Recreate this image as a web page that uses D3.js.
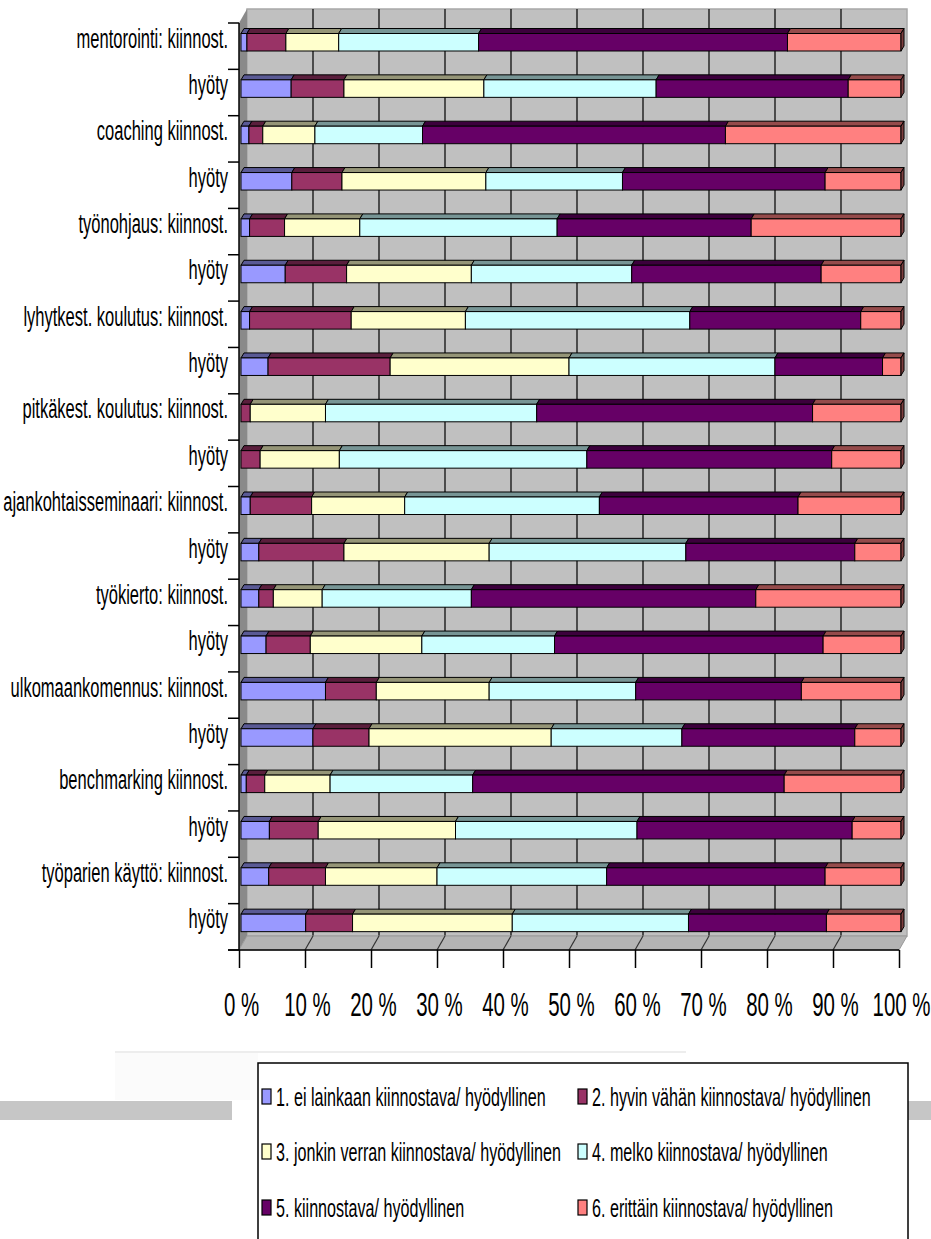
<!DOCTYPE html>
<html>
<head>
<meta charset="utf-8">
<script src="https://cdn.jsdelivr.net/npm/d3@7"></script>
<style>
  html, body { margin: 0; padding: 0; background: #fff; }
  svg { display: block; font-family: "Liberation Sans", Arial, sans-serif; }
</style>
</head>
<body>
<div id="chart"></div>
<script>
// 100 % stacked 3D bar chart (Excel style): interest / usefulness of development methods

const categories = [
  "mentorointi: kiinnost.", "hyöty",
  "coaching kiinnost.", "hyöty",
  "työnohjaus: kiinnost.", "hyöty",
  "lyhytkest. koulutus: kiinnost.", "hyöty",
  "pitkäkest. koulutus: kiinnost.", "hyöty",
  "ajankohtaisseminaari: kiinnost.", "hyöty",
  "työkierto: kiinnost.", "hyöty",
  "ulkomaankomennus: kiinnost.", "hyöty",
  "benchmarking kiinnost.", "hyöty",
  "työparien käyttö: kiinnost.", "hyöty",
];

const levels = [
  "1. ei lainkaan kiinnostava/ hyödyllinen",
  "2. hyvin vähän kiinnostava/ hyödyllinen",
  "3. jonkin verran kiinnostava/ hyödyllinen",
  "4. melko kiinnostava/ hyödyllinen",
  "5. kiinnostava/ hyödyllinen",
  "6. erittäin kiinnostava/ hyödyllinen",
];

// share (%) of answers per level, one value per category (top to bottom)
const lvl1 = [0.9, 7.6, 1.2, 7.7, 1.3, 6.7, 1.3, 4.1, 0, 0, 1.4, 2.7, 2.7, 3.8, 12.8, 10.9, 0.8, 4.3, 4.2, 9.8];
const lvl2 = [5.9, 8.0, 2.1, 7.6, 5.3, 9.3, 15.4, 18.5, 1.4, 2.9, 9.3, 12.9, 2.2, 6.7, 7.7, 8.5, 2.8, 7.4, 8.6, 7.1];
const lvl3 = [8.0, 21.2, 7.9, 21.8, 11.4, 18.9, 17.3, 27.1, 11.4, 12.0, 14.1, 22.0, 7.4, 16.9, 17.1, 27.6, 9.9, 20.8, 16.9, 24.2];
const lvl4 = [21.2, 26.1, 16.3, 20.7, 29.9, 24.3, 34.0, 31.2, 32.0, 37.5, 29.5, 29.8, 22.6, 20.1, 22.2, 19.8, 21.6, 27.5, 25.7, 26.7];
const lvl5 = [46.8, 29.1, 45.9, 30.7, 29.4, 28.7, 25.9, 16.3, 41.8, 37.1, 30.1, 25.6, 43.1, 40.7, 25.1, 26.2, 47.2, 32.6, 33.1, 20.9];
const lvl6 = [17.2, 8.0, 26.6, 11.5, 22.7, 12.1, 6.1, 2.8, 13.4, 10.5, 15.6, 7.0, 22.0, 11.8, 15.1, 7.0, 17.7, 7.4, 11.5, 11.3];

const xTicks = [0, 10, 20, 30, 40, 50, 60, 70, 80, 90, 100];

const series = [lvl1, lvl2, lvl3, lvl4, lvl5, lvl6];
const colors = ["#9999FF", "#993366", "#FFFFCC", "#CCFFFF", "#660066", "#FF8080"];

const W = 931, H = 1239;
const X0 = 239, X1 = 899, YT = 23, YB = 950;
const DX = 8, DY = -14;       // depth of the walls
const BDX = 3, BDY = -5;      // depth of a bar
const SQ = 0.62;              // horizontal squeeze of the narrow font
const SQ_LABEL = 0.59;

const svg = d3.select("#chart").append("svg").attr("width", W).attr("height", H);

const x = d3.scaleLinear().domain([0, 100]).range([X0, X1]);
const y = d3.scaleBand().domain(d3.range(categories.length)).range([YT, YB]);

// ---- walls -----------------------------------------------------------------
svg.append("rect")
  .attr("x", X0 + DX).attr("y", YT + DY)
  .attr("width", X1 - X0).attr("height", YB - YT)
  .attr("fill", "#c0c0c0").attr("stroke", "#a8a8a8").attr("stroke-width", 1.5);

svg.append("g").selectAll("line").data(xTicks.slice(1, -1)).join("line")
  .attr("x1", (d) => x(d) + DX).attr("x2", (d) => x(d) + DX)
  .attr("y1", YT + DY).attr("y2", YB + DY)
  .attr("stroke", "#1a1a1a").attr("stroke-width", 1.4);

// left wall
svg.append("path")
  .attr("d", `M${X0},${YT} L${X0 + DX},${YT + DY} L${X0 + DX},${YB + DY} L${X0},${YB} Z`)
  .attr("fill", "#8a8a8a");

// floor
svg.append("path")
  .attr("d", `M${X0},${YB} L${X1},${YB} L${X1 + DX},${YB + DY} L${X0 + DX},${YB + DY} Z`)
  .attr("fill", "#b4b4b4").attr("stroke", "#9a9a9a");
svg.append("g").selectAll("line").data(xTicks.slice(1, -1)).join("line")
  .attr("x1", (d) => x(d)).attr("y1", YB)
  .attr("x2", (d) => x(d) + DX).attr("y2", YB + DY)
  .attr("stroke", "#333").attr("stroke-width", 1.2);

// ---- bars ------------------------------------------------------------------
const rows = categories.map((c, i) => {
  const r = { i };
  series.forEach((s, k) => { r[k] = s[i]; });
  return r;
});
const stacked = d3.stack().keys(d3.range(series.length))(rows);

const bx = (v) => x(v) + 2;
const barTop = (i) => y(i) + 10.5;
const barH = 17.5;

const gBars = svg.append("g");
rows.forEach((row, i) => {
  const gRow = gBars.append("g");
  const y0 = barTop(i);
  stacked.forEach((layer, k) => {
    const [a, b] = layer[i];
    if (b - a <= 0) return;
    const xa = bx(a), xb = bx(b);
    const c = d3.color(colors[k]);
    gRow.append("path")
      .attr("d", `M${xa},${y0} L${xa + BDX},${y0 + BDY} L${xb + BDX},${y0 + BDY} L${xb},${y0} Z`)
      .attr("fill", c.darker(1.5)).attr("stroke", "#000").attr("stroke-width", 1);
    gRow.append("rect")
      .attr("x", xa).attr("y", y0).attr("width", xb - xa).attr("height", barH)
      .attr("fill", colors[k]).attr("stroke", "#000").attr("stroke-width", 1);
    if (k === series.length - 1) {
      gRow.append("path")
        .attr("d", `M${xb},${y0} L${xb + BDX},${y0 + BDY} L${xb + BDX},${y0 + BDY + barH} L${xb},${y0 + barH} Z`)
        .attr("fill", c.darker(2)).attr("stroke", "#000").attr("stroke-width", 1);
    }
  });
});

// ---- axes ------------------------------------------------------------------
svg.append("line")
  .attr("x1", X0).attr("x2", X0).attr("y1", YT).attr("y2", YB)
  .attr("stroke", "#000").attr("stroke-width", 1.5);
svg.append("line")
  .attr("x1", X0 - 11).attr("x2", X1).attr("y1", YB).attr("y2", YB)
  .attr("stroke", "#000").attr("stroke-width", 1.5);

// category tick marks sit on band edges
const edges = y.domain().map((d) => y(d)).concat([YB]);
svg.append("g").selectAll("line").data(edges).join("line")
  .attr("x1", X0 - 11).attr("x2", X0).attr("y1", (d) => d).attr("y2", (d) => d)
  .attr("stroke", "#000").attr("stroke-width", 1.5);

const yAxis = svg.append("g")
  .attr("transform", `translate(${X0},0)`)
  .call(d3.axisLeft(y).tickSize(0).tickFormat((d) => categories[d]));
yAxis.select(".domain").remove();
yAxis.selectAll("text")
  .attr("x", 0).attr("dy", null).attr("y", 0)
  .attr("transform", `translate(-11,1.5) scale(${SQ_LABEL},1)`)
  .attr("fill", "#000")
  .style("font-size", "28px");
yAxis.attr("font-family", null);

const xAxis = svg.append("g")
  .attr("transform", `translate(0,${YB})`)
  .call(d3.axisBottom(x).tickValues(xTicks).tickSize(18).tickFormat((d) => `${d} %`));
xAxis.select(".domain").remove();
xAxis.selectAll(".tick line").attr("stroke", "#000").attr("stroke-width", 1.5);
xAxis.selectAll("text")
  .attr("y", 0).attr("dy", null)
  .attr("transform", `translate(2,66) scale(${SQ},1)`)
  .attr("fill", "#000")
  .style("font-size", "33px");
xAxis.attr("font-family", null);

// ---- scan artefacts under the chart -----------------------------------------
svg.append("rect").attr("x", 115).attr("y", 1052).attr("width", 143).attr("height", 48).attr("fill", "#fbfbfb");
svg.append("line").attr("x1", 115).attr("x2", 686).attr("y1", 1052).attr("y2", 1052)
  .attr("stroke", "#ededed").attr("stroke-width", 2);
svg.append("rect").attr("x", 0).attr("y", 1101).attr("width", 232).attr("height", 19).attr("fill", "#c6c6c6");
svg.append("rect").attr("x", 903).attr("y", 1101).attr("width", 28).attr("height", 19).attr("fill", "#c6c6c6");

// ---- legend ----------------------------------------------------------------
const legend = svg.append("g");
legend.append("rect")
  .attr("x", 258).attr("y", 1063).attr("width", 650).attr("height", 190)
  .attr("fill", "#fff").attr("stroke", "#000").attr("stroke-width", 1.5);

const legCol = [262, 578];
const legRow = [1097, 1152, 1208];
const item = legend.selectAll("g.item").data(levels).join("g")
  .attr("class", "item")
  .attr("transform", (d, i) => `translate(${legCol[i % 2]},${legRow[Math.floor(i / 2)]})`);
item.append("rect")
  .attr("x", 0).attr("y", -8).attr("width", 9).attr("height", 15)
  .attr("fill", (d, i) => colors[i]).attr("stroke", "#000").attr("stroke-width", 1.2);
item.append("text")
  .attr("transform", `translate(14,9) scale(${SQ},1)`)
  .style("font-size", "26px")
  .attr("fill", "#000")
  .text((d) => d);
</script>
</body>
</html>
